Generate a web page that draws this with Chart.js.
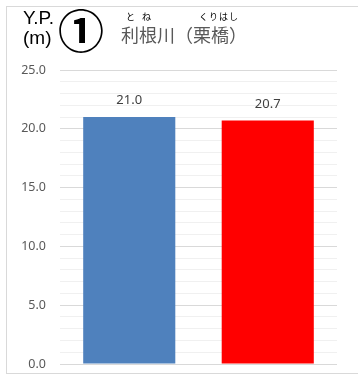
<!DOCTYPE html>
<html>
<head>
<meta charset="utf-8">
<script src="https://cdn.jsdelivr.net/npm/chart.js@4"></script>
<style>
  body { margin: 0; background: #fff; }
  #wrap { position: relative; width: 358px; height: 376px; overflow: hidden; }
  #frame { position: absolute; left: 6px; top: 6px; width: 380px; height: 366px; border: 1px solid #d9d9d9; }
  canvas { position: absolute; left: 0; top: 0; }
  .t { position: absolute; white-space: nowrap; }
  #yp { left: 23px; top: 8px; font: 19px "Liberation Sans", Arial, sans-serif; color: #000; line-height: 20px; }
  #no { left: 58px; top: 3px; font: bold 46px "Noto Sans CJK JP", sans-serif; color: #000; line-height: 50px; }
  #name { left: 121px; top: 21px; font: 18px "Noto Sans CJK JP", sans-serif; color: #595959; line-height: 26px; }
  .ruby { position: absolute; top: 10px; font: 9px "Noto Sans CJK JP", sans-serif; color: #000; letter-spacing: 1px; }
</style>
</head>
<body>
<div id="wrap">
  <div id="frame"></div>
  <canvas id="chart" width="358" height="376"></canvas>
  <div class="t" id="yp">Y.P.<br>(m)</div>
  <div class="t" id="no">①</div>
  <div class="t" id="name">利根川（栗橋）</div>
  <div class="ruby" style="left:126px">と&nbsp;&nbsp;ね</div>
  <div class="ruby" style="left:199px">くりはし</div>
</div>
<script>
"use strict";
const categories = ["計画", "実績"];
const levels = [21.0, 20.7];
const barColors = ["#4f81bd", "#ff0000"];
const yMin = 0;
const yMax = 25;

// value labels above each bar
const barLabels = {
  id: "barLabels",
  afterDatasetsDraw(chart) {
    const c = chart.ctx;
    const meta = chart.getDatasetMeta(0);
    c.save();
    c.font = "13px 'Noto Sans', sans-serif";
    c.fillStyle = "#404040";
    c.textAlign = "center";
    c.textBaseline = "bottom";
    meta.data.forEach((bar, i) => {
      c.fillText(levels[i].toFixed(1), bar.x, bar.y - 10);
    });
    c.restore();
  },
};

const ctx = document.getElementById("chart");
const myChart = new Chart(ctx, {
  type: "bar",
  data: {
    labels: categories,
    datasets: [
      {
        data: levels,
        backgroundColor: barColors,
        categoryPercentage: 1,
        barPercentage: 0.665,
      },
    ],
  },
  options: {
    responsive: false,
    animation: false,
    layout: { padding: { top: 70, right: 21, bottom: 12, left: 0 } },
    plugins: { legend: { display: false }, tooltip: { enabled: false } },
    scales: {
      x: { display: false },
      y: {
        min: yMin,
        max: yMax,
        afterFit(scale) {
          // fixed axis width, and no extra room for the end labels
          scale.width = 60;
          scale.paddingTop = 0;
          scale.paddingBottom = 0;
        },
        border: { display: false },
        grid: {
          drawTicks: false,
          color: (c) => (c.tick && c.tick.value % 5 === 0 ? "#d9d9d9" : "#f0f0f0"),
        },
        ticks: {
          stepSize: 1,
          autoSkip: false,
          padding: 14,
          color: "#595959",
          font: { family: "'Noto Sans', sans-serif", size: 12.5 },
          callback: (v) => (v % 5 === 0 ? v.toFixed(1) : ""),
        },
      },
    },
  },
  plugins: [barLabels],
});
</script>
</body>
</html>
